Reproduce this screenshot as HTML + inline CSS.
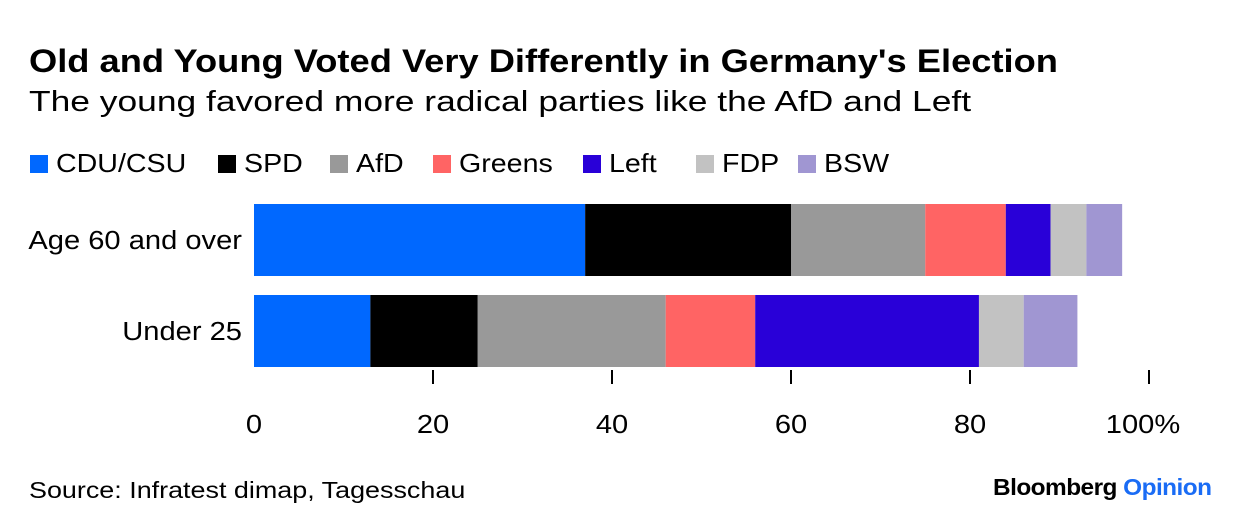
<!DOCTYPE html>
<html><head><meta charset="utf-8"><style>
body{margin:0;background:#fff;font-family:"Liberation Sans",sans-serif;}
#wrap{position:relative;width:1240px;height:530px;overflow:hidden;}
.t{position:absolute;white-space:nowrap;color:#000;transform-origin:0 0;}
.le{position:absolute;display:flex;align-items:center;font-size:26px;white-space:nowrap}
.le span.sq{display:inline-block;width:18px;height:18px;margin-right:8px}
.le span.tx{display:inline-block;transform:scaleX(1.1);transform-origin:0 50%}
</style></head><body>
<div id="wrap">
<div class="t" style="left:29px;top:43px;font-size:32px;font-weight:bold;transform:scaleX(1.134)">Old and Young Voted Very Differently in Germany's Election</div>
<div class="t" style="left:29px;top:86px;font-size:29px;transform:scaleX(1.22)">The young favored more radical parties like the AfD and Left</div>
<div id="legend"></div>
<svg id="svg" width="1240" height="530" style="position:absolute;left:0;top:0"></svg>
<div class="t" style="left:29px;top:477px;font-size:23px;transform:scaleX(1.17)">Source: Infratest dimap, Tagesschau</div>
<div class="t" style="left:993px;top:474px;font-size:23px;font-weight:bold;letter-spacing:-0.5px;transform:scaleX(1.06)">Bloomberg <span style="color:#1a6cf5">Opinion</span></div>
</div>
<script>
const parties=["CDU/CSU","SPD","AfD","Greens","Left","FDP","BSW"];
const colors=["#0068ff","#000000","#999999","#ff6464","#2900d8","#c2c2c2","#a096d2"];
const groups=["Age 60 and over","Under 25"];
const old60=[37,23,15,9,5,4,4];
const under25=[13,12,21,10,25,5,6];
const ticks=[0,20,40,60,80,100];
const series=[old60,under25];
const legendLeft=[30,218,330,433,583,696,798];
const x=v=>254+v*8.95;
const rowY=[204,295], bh=72;
const ns="http://www.w3.org/2000/svg";
const svg=document.getElementById('svg');
const leg=document.getElementById('legend');
parties.forEach((p,i)=>{
 const e=document.createElement('div');
 
 
 e.className='le';
 e.style.left=legendLeft[i]+'px';e.style.top='148px';
 e.innerHTML='<span class="sq" style="background:'+colors[i]+'"></span><span class="tx">'+p+'</span>';
 leg.appendChild(e);
});
function txt(str,xx,yy,anchor,sx,name){
 const t=document.createElementNS(ns,'text');
 
 
 t.setAttribute('transform','translate('+xx+','+yy+') scale('+sx+',1)');
 t.setAttribute('text-anchor',anchor);t.setAttribute('font-size','26');
 t.setAttribute('font-family','Liberation Sans, sans-serif');
 t.textContent=str;svg.appendChild(t);
}
series.forEach((s,g)=>{
 let c=0;
 s.forEach((v,i)=>{
  const r=document.createElementNS(ns,'rect');
  
  
  r.setAttribute('x',x(c));r.setAttribute('width',x(c+v)-x(c));
  r.setAttribute('y',rowY[g]);r.setAttribute('height',bh);
  r.setAttribute('fill',colors[i]);svg.appendChild(r);c+=v;
 });
 txt(groups[g],242,rowY[g]+bh/2+9,'end',1.12,'category-label');
});
ticks.forEach(v=>{
 if(v>0){const l=document.createElementNS(ns,'line');
 
 
 l.setAttribute('x1',x(v));l.setAttribute('x2',x(v));l.setAttribute('y1',370);l.setAttribute('y2',384);
 l.setAttribute('stroke','#000');l.setAttribute('stroke-width','2');svg.appendChild(l);}
 txt(v==100?'100%':String(v),x(v)+(v==100?-6:0),433,'middle',1.12,'x-tick-label');
});
</script>
</body></html>
